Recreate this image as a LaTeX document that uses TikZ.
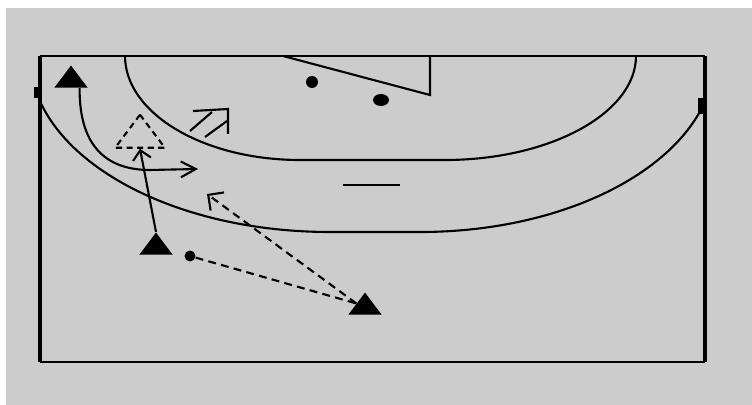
\documentclass[tikz,border=0pt]{standalone}
\usepackage{tikz}
\usetikzlibrary{arrows.meta,shapes.geometric}

\definecolor{floor}{RGB}{204,204,204}

\begin{document}
\begin{tikzpicture}[x=0.02cm, y=-0.02cm,
    zone/.style={line width=1.2pt, black},
    player/.style={isosceles triangle, isosceles triangle apex angle=74, shape border rotate=90, fill=black, inner sep=0pt, minimum height=0.44cm, anchor=apex},
    ghost/.style={isosceles triangle, isosceles triangle apex angle=74, shape border rotate=97, draw, dash pattern=on 3.5pt off 2.5pt, line width=1.2pt, inner sep=0pt, minimum height=0.66cm, anchor=apex},
    ball/.style={circle, fill=black, inner sep=0pt, minimum size=0.24cm},
    run/.style={-{Straight Barb[length=8.5pt, width=9pt]}, line width=1.2pt},
    move/.style={-{Straight Barb[length=5.2pt, width=10.4pt]}, line width=1.2pt},
    pass/.style={dash pattern=on 4.5pt off 3pt, line width=1.2pt},
    passtip/.style={-{Straight Barb[length=6.4pt, width=12.8pt]}}
]
    % Background
    \useasboundingbox (0,0) rectangle (752,405);
    \fill[white] (0,0) rectangle (752,405);
    \fill[floor] (6,8) rectangle (752,405);

    % Court lines
    \begin{scope}
        \clip (40,56) rectangle (705,362);
        \draw[zone] (30,56) .. controls (30,153) and (164,232) .. (330,232) -- (420,232)
            .. controls (583,232) and (715,153) .. (715,56);
        \draw[zone] (125,56) .. controls (125,113) and (203,160) .. (300,160) -- (445,160)
            .. controls (550,160) and (636,113) .. (636,56);
    \end{scope}
    \draw[line width=1.3pt] (40,56) -- (705,56);
    \draw[line width=1.4pt] (40,362) -- (705,362);
    \draw[line width=1.8pt] (40,56) -- (40,362);
    \draw[line width=1.8pt] (705,56) -- (705,362);
    \fill (34,87) rectangle (40,98);
    \fill (698,98) rectangle (704,114);
    \draw[zone] (283,56) -- (430,95) -- (430,56);
    \draw[line width=1.3pt] (343,185) -- (400,185);

    % Players and balls
    \node[ball] (d1) at (312,82) {};
    \node[ball, ellipse, minimum width=0.32cm, minimum height=0.24cm] (d2) at (381,100) {};
    \node[ball, minimum size=0.22cm] (hand) at (190,256) {};
    \node[player] (pa) at (71,65) {};
    \node[player] (pb) at (156,232) {};
    \node[player] (pc) at (365,292) {};
    \node[ghost] (gb) at (140,113) {};

    % Moves
    \coordinate (runend) at (198,169);
    \draw[run] (pa.south east) .. controls (79,150) and (110,170) .. (150,170) -- (runend);
    \draw[move] (pb.apex) -- (gb.lower side);

    % Shot
    \coordinate (s1) at (190,131);
    \coordinate (s2) at (212,112);
    \coordinate (s3) at (205,137);
    \coordinate (s4) at (227,121);
    \coordinate (stip) at (228,109);
    \coordinate (sw1) at (193,111);
    \coordinate (sw2) at (228,134);
    \draw[zone] (s1) -- (s2);
    \draw[zone] (s3) -- (s4);
    \draw[zone] (sw1) -- (stip) -- (sw2);

    % Passes
    \coordinate (ptip) at (207,194);
    \draw[pass] (hand) -- (pc.left side);
    \draw[pass, passtip] (pc.left side) -- (ptip);
\end{tikzpicture}
\end{document}
